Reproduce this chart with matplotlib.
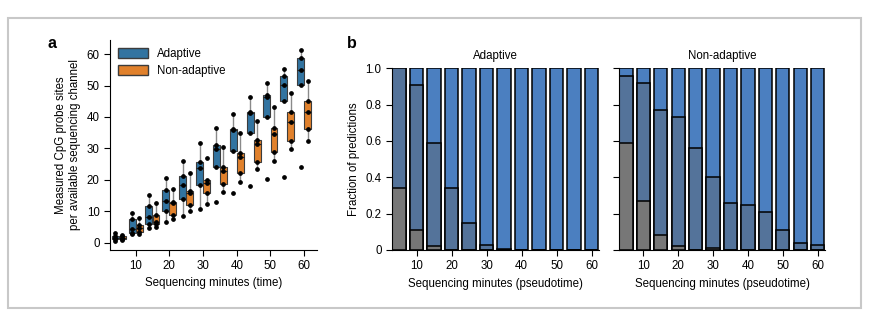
import numpy as np
import matplotlib.pyplot as plt
from matplotlib.patches import Patch, Rectangle

plt.rcParams['font.family'] = ['Liberation Sans', 'DejaVu Sans']
fs = 8.3

minutes = [5, 10, 15, 20, 25, 30, 35, 40, 45, 50, 55, 60]

# probe sites per channel, one list of points per time bin
adaptive_pts = [
    [0.5, 1.0, 1.5, 2.2, 3.0],
    [2.8, 3.2, 4.2, 7.5, 9.3],
    [4.6, 6.0, 8.3, 11.5, 15.2],
    [6.5, 10.0, 13.3, 16.6, 20.5],
    [8.6, 14.0, 18.3, 21.2, 26.0],
    [10.7, 18.3, 23.6, 25.6, 31.8],
    [13.0, 24.0, 29.9, 31.2, 36.5],
    [15.8, 29.3, 36.0, 36.3, 40.8],
    [18.0, 34.8, 41.1, 41.5, 46.2],
    [20.1, 40.1, 46.4, 46.9, 50.9],
    [21.0, 45.2, 50.2, 53.1, 55.4],
    [24.0, 50.2, 55.1, 58.8, 61.3],
]
nonadaptive_pts = [
    [0.8, 1.2, 1.5, 2.0, 2.5],
    [2.8, 3.5, 4.8, 5.5, 7.8],
    [5.0, 5.8, 6.5, 8.7, 12.5],
    [7.5, 8.8, 12.7, 13.0, 17.2],
    [10.1, 11.9, 15.8, 16.3, 22.3],
    [12.2, 15.7, 18.9, 20.0, 26.8],
    [16.0, 18.8, 22.9, 24.1, 30.4],
    [19.4, 22.3, 27.2, 28.5, 35.0],
    [23.3, 25.5, 31.4, 32.8, 38.8],
    [26.1, 28.8, 34.7, 36.6, 43.3],
    [29.7, 32.5, 38.5, 41.5, 47.6],
    [32.5, 36.3, 41.6, 45.0, 51.4],
]

# fractions of predictions: bottom (grey), middle (slate) cumulative top, rest blue
adaptive_grey = [0.34, 0.11, 0.02, 0.0, 0.0, 0.0, 0.0, 0.0, 0.0, 0.0, 0.0, 0.0]
adaptive_mid = [1.0, 0.91, 0.59, 0.34, 0.15, 0.03, 0.005, 0.0, 0.0, 0.0, 0.0, 0.0]
nonadaptive_grey = [0.59, 0.27, 0.08, 0.02, 0.0, 0.013, 0.0, 0.0, 0.0, 0.0, 0.0, 0.0]
nonadaptive_mid = [0.96, 0.92, 0.77, 0.73, 0.56, 0.40, 0.26, 0.25, 0.21, 0.11, 0.04, 0.03]

c_blue = '#3274a1'
c_orange = '#e1812c'
c_grey = '#777777'
c_slate = '#54739a'
c_bright = '#4b7fc0'

fig = plt.figure(figsize=(8.75, 3.21), dpi=100)

# outer frame
fig.patches.append(Rectangle((8 / 875, 1 - 308 / 321), 853 / 875, 290 / 321,
                             transform=fig.transFigure, fill=False,
                             edgecolor='#c8c8c8', linewidth=1.5))

# ---- panel a
ax = fig.add_axes([110 / 875, 1 - 249.5 / 321, 207 / 875, 209.5 / 321])
off = 1.05
for pts, dx, col in [(adaptive_pts, -off, c_blue), (nonadaptive_pts, off, c_orange)]:
    pos = [m + dx for m in minutes]
    ax.boxplot(pts, positions=pos, widths=2.05, patch_artist=True, showfliers=False,
               manage_ticks=False,
               boxprops=dict(facecolor=col, edgecolor='#3c3c3c', linewidth=0.8),
               whiskerprops=dict(color='#8a8a8a', linewidth=1.0),
               capprops=dict(linewidth=0),
               medianprops=dict(color='#222222', linewidth=0.9))
    for p, vals in zip(pos, pts):
        ax.plot([p] * len(vals), vals, 'o', color='black', markersize=2.4, zorder=5)

ax.set_xlim(2.4, 63.8)
ax.set_ylim(-2.2, 64.5)
ax.set_xticks([10, 20, 30, 40, 50, 60])
ax.set_yticks([0, 10, 20, 30, 40, 50, 60])
ax.spines['top'].set_visible(False)
ax.spines['right'].set_visible(False)
ax.tick_params(length=4, width=0.8, labelsize=fs)
ax.set_xlabel('Sequencing minutes (time)', fontsize=fs)
ax.set_ylabel('Measured CpG probe sites\nper available sequencing channel', fontsize=fs)
ax.legend(handles=[Patch(facecolor=c_blue, edgecolor='#3c3c3c', label='Adaptive'),
                   Patch(facecolor=c_orange, edgecolor='#3c3c3c', label='Non-adaptive')],
          loc='upper left', frameon=False, fontsize=fs, handlelength=2.6,
          handleheight=1.0, borderaxespad=0.3, labelspacing=0.4)
fig.text(47 / 875, 1 - 44 / 321, 'a', fontsize=11.5, fontweight='bold', va='center')

# ---- panel b
def stacked(ax, grey, mid, title):
    grey = np.array(grey)
    mid = np.array(mid)
    kw = dict(width=3.8, edgecolor='black', linewidth=1.1)
    ax.bar(minutes, np.ones(len(minutes)), color=c_bright, **kw)
    ax.bar(minutes, mid, color=c_slate, **kw)
    ax.bar(minutes, grey, color=c_grey, **kw)
    ax.set_xlim(3.0, 62.1)
    ax.set_ylim(0, 1)
    ax.set_xticks([10, 20, 30, 40, 50, 60])
    ax.set_yticks([0, 0.2, 0.4, 0.6, 0.8, 1.0])
    ax.set_yticklabels(['0', '0.2', '0.4', '0.6', '0.8', '1.0'])
    for s in ['top', 'right']:
        ax.spines[s].set_visible(False)
    ax.tick_params(length=4, width=0.8, labelsize=fs)
    ax.set_xlabel('Sequencing minutes (pseudotime)', fontsize=fs)
    ax.set_title(title, fontsize=fs, pad=7)

bx1 = fig.add_axes([392 / 875, 1 - 250 / 321, 207 / 875, 181.7 / 321])
stacked(bx1, adaptive_grey, adaptive_mid, 'Adaptive')
bx1.set_ylabel('Fraction of predictions', fontsize=fs)

bx2 = fig.add_axes([619 / 875, 1 - 250 / 321, 206 / 875, 181.7 / 321])
stacked(bx2, nonadaptive_grey, nonadaptive_mid, 'Non-adaptive')
bx2.set_yticklabels([])

fig.text(347 / 875, 1 - 43 / 321, 'b', fontsize=11.5, fontweight='bold', va='center')

fig.savefig('out.png', dpi=100)
